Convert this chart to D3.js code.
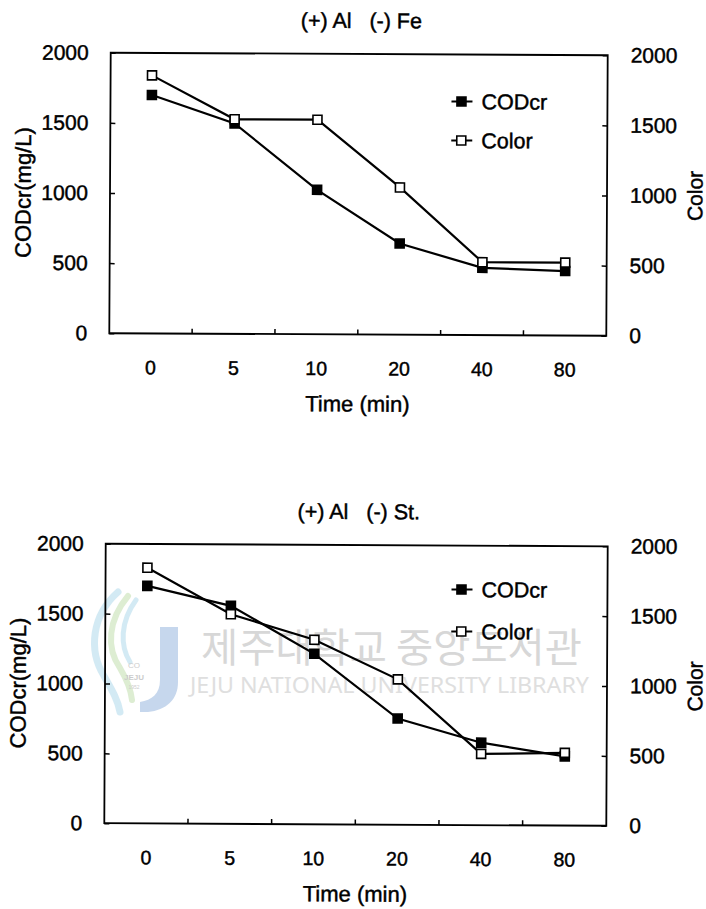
<!DOCTYPE html>
<html>
<head>
<meta charset="utf-8">
<script src="https://cdn.jsdelivr.net/npm/d3@7"></script>
<style>
  html, body { margin: 0; padding: 0; background: #fff; }
  svg { display: block; }
  text { font-family: "Liberation Sans", Arial, "DejaVu Sans", sans-serif; fill: #000; }
  .chart text { stroke: #000; stroke-width: 0.45px; }
</style>
</head>
<body>
<svg id="fig" width="706" height="909"></svg>
<script>
// Sampling times (min), shown as evenly spaced categories
const times = ["0", "5", "10", "20", "40", "80"];
const yTicks = [0, 500, 1000, 1500, 2000];

// Panel 1: (+) Al  (-) Fe
const feTitle = "(+) Al   (-) Fe";
const feCOD = [1700, 1500, 1030, 650, 480, 460];
const feColor = [1840, 1530, 1530, 1050, 520, 520];

// Panel 2: (+) Al  (-) St.
const stTitle = "(+) Al   (-) St.";
const stCOD = [1700, 1560, 1220, 760, 590, 495];
const stColor = [1830, 1500, 1320, 1040, 510, 520];

const svg = d3.select("#fig");

// Library watermark behind the lower panel
function drawWatermark() {
  const wm = svg.append("g").attr("opacity", 0.5);
  // logo swirls
  wm.append("path")
    .attr("d", "M118,592 C92,615 88,650 104,676 C112,690 118,700 120,712")
    .attr("fill", "none").attr("stroke", "#a9d6ea").attr("stroke-width", 7).attr("stroke-linecap", "round");
  wm.append("path")
    .attr("d", "M128,596 C108,620 106,648 120,668 C127,680 131,690 132,700")
    .attr("fill", "none").attr("stroke", "#bcdca6").attr("stroke-width", 6).attr("stroke-linecap", "round");
  wm.append("path")
    .attr("d", "M136,600 C120,622 120,646 130,662")
    .attr("fill", "none").attr("stroke", "#a9d6ea").attr("stroke-width", 5).attr("stroke-linecap", "round");
  // blue J
  wm.append("path")
    .attr("d", "M160,627 L178,627 L178,682 C178,700 166,710 148,712 L140,712 L140,702 C152,700 160,694 160,680 Z")
    .attr("fill", "#8fb0dc");
  wm.append("text").attr("x", 134).attr("y", 668).attr("text-anchor", "middle")
    .attr("font-size", 8).style("fill", "#999").text("CO");
  wm.append("text").attr("x", 134).attr("y", 680).attr("text-anchor", "middle")
    .attr("font-size", 8).attr("font-weight", "bold").style("fill", "#999").text("JEJU");
  wm.append("text").attr("x", 134).attr("y", 689).attr("text-anchor", "middle")
    .attr("font-size", 5).style("fill", "#999").text("1952");

  wm.append("text")
    .attr("x", 201).attr("y", 662)
    .attr("textLength", 381).attr("lengthAdjust", "spacingAndGlyphs")
    .attr("font-size", 40)
    .style("font-family", '"Noto Sans CJK KR", "Noto Sans", sans-serif')
    .style("fill", "#b0b0b0")
    .text("제주대학교 중앙도서관");
  wm.append("text")
    .attr("x", 190).attr("y", 693)
    .attr("textLength", 399).attr("lengthAdjust", "spacingAndGlyphs")
    .attr("font-size", 21)
    .style("font-family", '"Noto Sans", "Liberation Sans", sans-serif')
    .style("fill", "#c0c0c0")
    .text("JEJU NATIONAL UNIVERSITY LIBRARY");
}

function drawPanel(p) {
  const g = svg.append("g").attr("class", "chart")
    .attr("transform", `rotate(${p.tilt}, ${(p.left + p.right) / 2}, ${(p.top + p.bottom) / 2})`);

  const x = d3.scaleBand().domain(times).range([p.left, p.right]);
  const y = d3.scaleLinear().domain([0, 2000]).range([p.bottom, p.top]);
  const cx = d => x(d) + x.bandwidth() / 2;
  const fmt = d3.format("d");

  // frame
  g.append("rect")
    .attr("x", p.left).attr("y", p.top)
    .attr("width", p.right - p.left).attr("height", p.bottom - p.top)
    .attr("fill", "none").attr("stroke", "#000").attr("stroke-width", 1.8);

  // left axis (inward ticks)
  const yl = g.append("g").attr("transform", `translate(${p.left},0)`)
    .call(d3.axisLeft(y).tickValues(yTicks).tickFormat(fmt).tickSize(-5).tickPadding(22));
  // right axis (inward ticks)
  const yr = g.append("g").attr("transform", `translate(${p.right},0)`)
    .call(d3.axisRight(y).tickValues(yTicks).tickFormat(fmt).tickSize(-5).tickPadding(23));
  // bottom axis: marks at category boundaries, labels at centers
  const boundaries = times.slice(1).map(t => x(t));
  g.append("g").selectAll("line").data(boundaries).join("line")
    .attr("x1", d => d).attr("x2", d => d)
    .attr("y1", p.bottom).attr("y2", p.bottom - 5)
    .attr("stroke", "#000").attr("stroke-width", 1.5);
  const xa = g.append("g").attr("transform", `translate(0,${p.bottom})`)
    .call(d3.axisBottom(x).tickSize(0).tickPadding(27));

  [yl, yr].forEach(a => {
    a.select(".domain").remove();
    a.selectAll(".tick line").attr("stroke-width", 1.5);
    a.selectAll(".tick text").attr("font-size", 21).attr("font-family", null);
  });
  xa.select(".domain").remove();
  xa.selectAll(".tick text").attr("font-size", 19.5).attr("font-family", null);

  // titles
  g.append("text")
    .attr("x", (p.left + p.right) / 2 + 2).attr("y", p.top - 26)
    .attr("text-anchor", "middle").attr("font-size", 21.5)
    .attr("xml:space", "preserve").style("white-space", "pre")
    .text(p.title);
  g.append("text")
    .attr("x", (p.left + p.right) / 2).attr("y", p.bottom + 77)
    .attr("text-anchor", "middle").attr("font-size", 22)
    .text("Time (min)");
  g.append("text")
    .attr("transform", `translate(${p.left - 87},${(p.top + p.bottom) / 2}) rotate(-90)`)
    .attr("text-anchor", "middle").attr("dy", "0.35em").attr("font-size", 22)
    .text("CODcr(mg/L)");
  g.append("text")
    .attr("transform", `translate(${p.right + 88},${(p.top + p.bottom) / 2}) rotate(-90)`)
    .attr("text-anchor", "middle").attr("dy", "0.35em").attr("font-size", 21)
    .text("Color");

  const line = d3.line().x((d, i) => cx(times[i])).y(d => y(d));
  const series = [
    { name: "CODcr", values: p.cod, fill: "#000" },
    { name: "Color", values: p.color, fill: "#fff" }
  ];
  const ms = 9;

  series.forEach(s => {
    g.append("path").datum(s.values)
      .attr("d", line).attr("fill", "none")
      .attr("stroke", "#000").attr("stroke-width", 2.2);
  });
  series.forEach(s => {
    g.append("g").selectAll("rect").data(s.values).join("rect")
      .attr("x", (d, i) => cx(times[i]) - ms / 2)
      .attr("y", d => y(d) - ms / 2)
      .attr("width", ms).attr("height", ms)
      .attr("fill", s.fill).attr("stroke", "#000").attr("stroke-width", 1.6);
  });

  // legend
  const lg = g.append("g").attr("transform", `translate(${p.right - 146},${p.top})`);
  series.forEach((s, i) => {
    const ly = p.legendY[i];
    lg.append("line").attr("x1", -10).attr("x2", 11).attr("y1", ly).attr("y2", ly)
      .attr("stroke", "#000").attr("stroke-width", 2);
    lg.append("rect").attr("x", -ms / 2).attr("y", ly - ms / 2).attr("width", ms).attr("height", ms)
      .attr("fill", s.fill).attr("stroke", "#000").attr("stroke-width", 1.6);
    lg.append("text").attr("x", 20).attr("y", ly).attr("dy", "0.35em")
      .attr("font-size", 21.5).text(s.name);
  });
}

drawWatermark();

drawPanel({
  title: feTitle, cod: feCOD, color: feColor,
  left: 110, right: 607, top: 54, bottom: 334.5, tilt: 0.29,
  legendY: [47, 86]
});
drawPanel({
  title: stTitle, cod: stCOD, color: stColor,
  left: 105, right: 607, top: 545, bottom: 824.5, tilt: 0.29,
  legendY: [44, 86]
});
</script>
</body>
</html>
